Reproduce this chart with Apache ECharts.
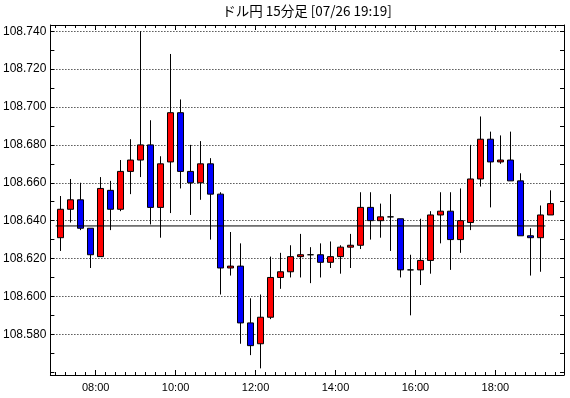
<!DOCTYPE html>
<html><head><meta charset="utf-8">
<script src="https://cdn.jsdelivr.net/npm/echarts@6/dist/echarts.min.js"></script>
<style>html,body{margin:0;padding:0;background:#fff}#c{width:570px;height:398px}</style>
</head><body><div id="c"></div>
<script>
const chartTitle = 'ドル円 15分足 [07/26 19:19]';
const times = ['07:00','07:15','07:30','07:45','08:00','08:15','08:30','08:45','09:00','09:15',
  '09:30','09:45','10:00','10:15','10:30','10:45','11:00','11:15','11:30','11:45',
  '12:00','12:15','12:30','12:45','13:00','13:15','13:30','13:45','14:00','14:15',
  '14:30','14:45','15:00','15:15','15:30','15:45','16:00','16:15','16:30','16:45',
  '17:00','17:15','17:30','17:45','18:00','18:15','18:30','18:45','19:00','19:15'];
const open = [108.631,108.646,108.651,108.636,108.621,108.656,108.646,108.666,108.672,108.680,
  108.647,108.671,108.697,108.666,108.660,108.670,108.654,108.615,108.616,108.586,
  108.575,108.589,108.610,108.613,108.621,108.622,108.622,108.618,108.621,108.626,
  108.627,108.647,108.640,108.642,108.641,108.614,108.614,108.619,108.643,108.645,
  108.630,108.639,108.662,108.683,108.671,108.672,108.661,108.632,108.631,108.643];
const close = [108.646,108.651,108.636,108.622,108.657,108.646,108.666,108.672,108.680,108.647,
  108.670,108.697,108.666,108.660,108.670,108.654,108.615,108.616,108.586,108.574,
  108.589,108.610,108.613,108.621,108.622,108.622,108.618,108.621,108.626,108.627,
  108.647,108.640,108.642,108.642,108.614,108.614,108.619,108.643,108.645,108.630,
  108.640,108.662,108.683,108.671,108.672,108.661,108.632,108.631,108.643,108.649];
const low = [108.624,108.639,108.635,108.615,108.621,108.635,108.645,108.654,108.663,108.638,
  108.631,108.644,108.657,108.643,108.651,108.630,108.601,108.611,108.575,108.569,
  108.562,108.588,108.604,108.610,108.610,108.607,108.610,108.615,108.612,108.615,
  108.625,108.630,108.631,108.624,108.610,108.590,108.606,108.612,108.628,108.614,
  108.623,108.635,108.658,108.647,108.670,108.661,108.632,108.611,108.613,108.643];
const high = [108.653,108.662,108.660,108.636,108.663,108.661,108.672,108.683,108.740,108.693,
  108.674,108.728,108.704,108.680,108.682,108.673,108.655,108.634,108.628,108.599,
  108.601,108.621,108.623,108.627,108.633,108.626,108.628,108.629,108.627,108.633,
  108.655,108.655,108.649,108.654,108.641,108.622,108.641,108.645,108.655,108.655,
  108.657,108.680,108.695,108.687,108.685,108.687,108.665,108.636,108.648,108.656];
const refLevel = 108.6372;
const refStart = '07:00';
const refEnd = '19:15';
const yLabels = [108.58,108.60,108.62,108.64,108.66,108.68,108.70,108.72,108.74];
const xLabels = ['08:00','10:00','12:00','14:00','16:00','18:00'];

const toMin = t => { const p = t.split(':').map(Number); return p[0]*60 + p[1]; };
const fmt = m => String(Math.floor(m/60)).padStart(2,'0') + ':' + String(Math.round(m%60)).padStart(2,'0');
const data = times.map((t,i) => [toMin(t) + 7.5, open[i], close[i], low[i], high[i]]);
const X_MIN = 412, X_MAX = 1183, Y_MIN = 108.5585, Y_MAX = 108.7433;
const minorX = []; for (let m = toMin('07:00'); m <= toMin('19:30'); m += 15) minorX.push(m);
const majorX = xLabels.map(toMin);
const yMinor = []; for (let i = 0; i <= 18; i++) yMinor.push(+(108.56 + i*0.01).toFixed(2));
const font = 'Liberation Sans';
const black = '#000';

function xAx(pos, lineShow, len, ticks, label) {
  return {
    type: 'value', min: X_MIN, max: X_MAX, position: pos,
    axisLine: {show: lineShow, onZero: false, lineStyle: {color: black, width: 1}},
    axisTick: {show: true, inside: true, length: len, customValues: ticks, lineStyle: {color: black, width: 1}},
    axisLabel: label || {show: false},
    splitLine: {show: false}
  };
}
function yAx(pos, lineShow, tickCfg, label, split) {
  return {
    type: 'value', min: Y_MIN, max: Y_MAX, position: pos, scale: true,
    axisLine: {show: lineShow, onZero: false, lineStyle: {color: black, width: 1}},
    axisTick: tickCfg,
    axisLabel: label || {show: false},
    splitLine: split || {show: false}
  };
}

const chart = echarts.init(document.getElementById('c'), null, {renderer: 'canvas'});
chart.setOption({
  animation: false,
  backgroundColor: '#fff',
  graphic: [{type: 'text', x: 307, y: 11, style: {text: chartTitle, fill: black, font: '13.5px "Noto Sans CJK JP"', textAlign: 'center', textVerticalAlign: 'middle'}}],
  grid: {left: 50, right: 6, top: 25, bottom: 23, containLabel: false},
  xAxis: [
    xAx('bottom', true, 3, minorX, {show: true, customValues: majorX, formatter: v => fmt(v), color: black, fontSize: 11, fontFamily: font, margin: 7}),
    xAx('bottom', false, 5, majorX),
    xAx('top', true, 3, minorX),
    xAx('top', false, 5, majorX)
  ],
  yAxis: [
    yAx('left', true, {show: true, inside: true, length: 4, customValues: yMinor, lineStyle: {color: black}},
      {show: true, customValues: yLabels, formatter: v => v.toFixed(3), color: black, fontSize: 12, fontFamily: font, margin: 4}),
    yAx('left', false, {show: false, customValues: yLabels}, null,
      {show: true, lineStyle: {color: black, width: 1, type: [1, 2]}}),
    yAx('right', true, {show: true, inside: true, length: 4, customValues: yMinor, lineStyle: {color: black}})
  ],
  series: [
    {type: 'candlestick', xAxisIndex: 0, yAxisIndex: 0, data: data, barWidth: 6, z: 3,
      itemStyle: {color: '#ff0000', color0: '#0000ff', borderColor: black, borderColor0: black, borderColorDoji: black, borderWidth: 1}},
    {type: 'line', xAxisIndex: 0, yAxisIndex: 0, z: 4, silent: true, symbol: 'none',
      data: [[toMin(refStart), refLevel], [toMin(refEnd), refLevel]],
      lineStyle: {color: black, width: 1}}
  ]
});
</script></body></html>
